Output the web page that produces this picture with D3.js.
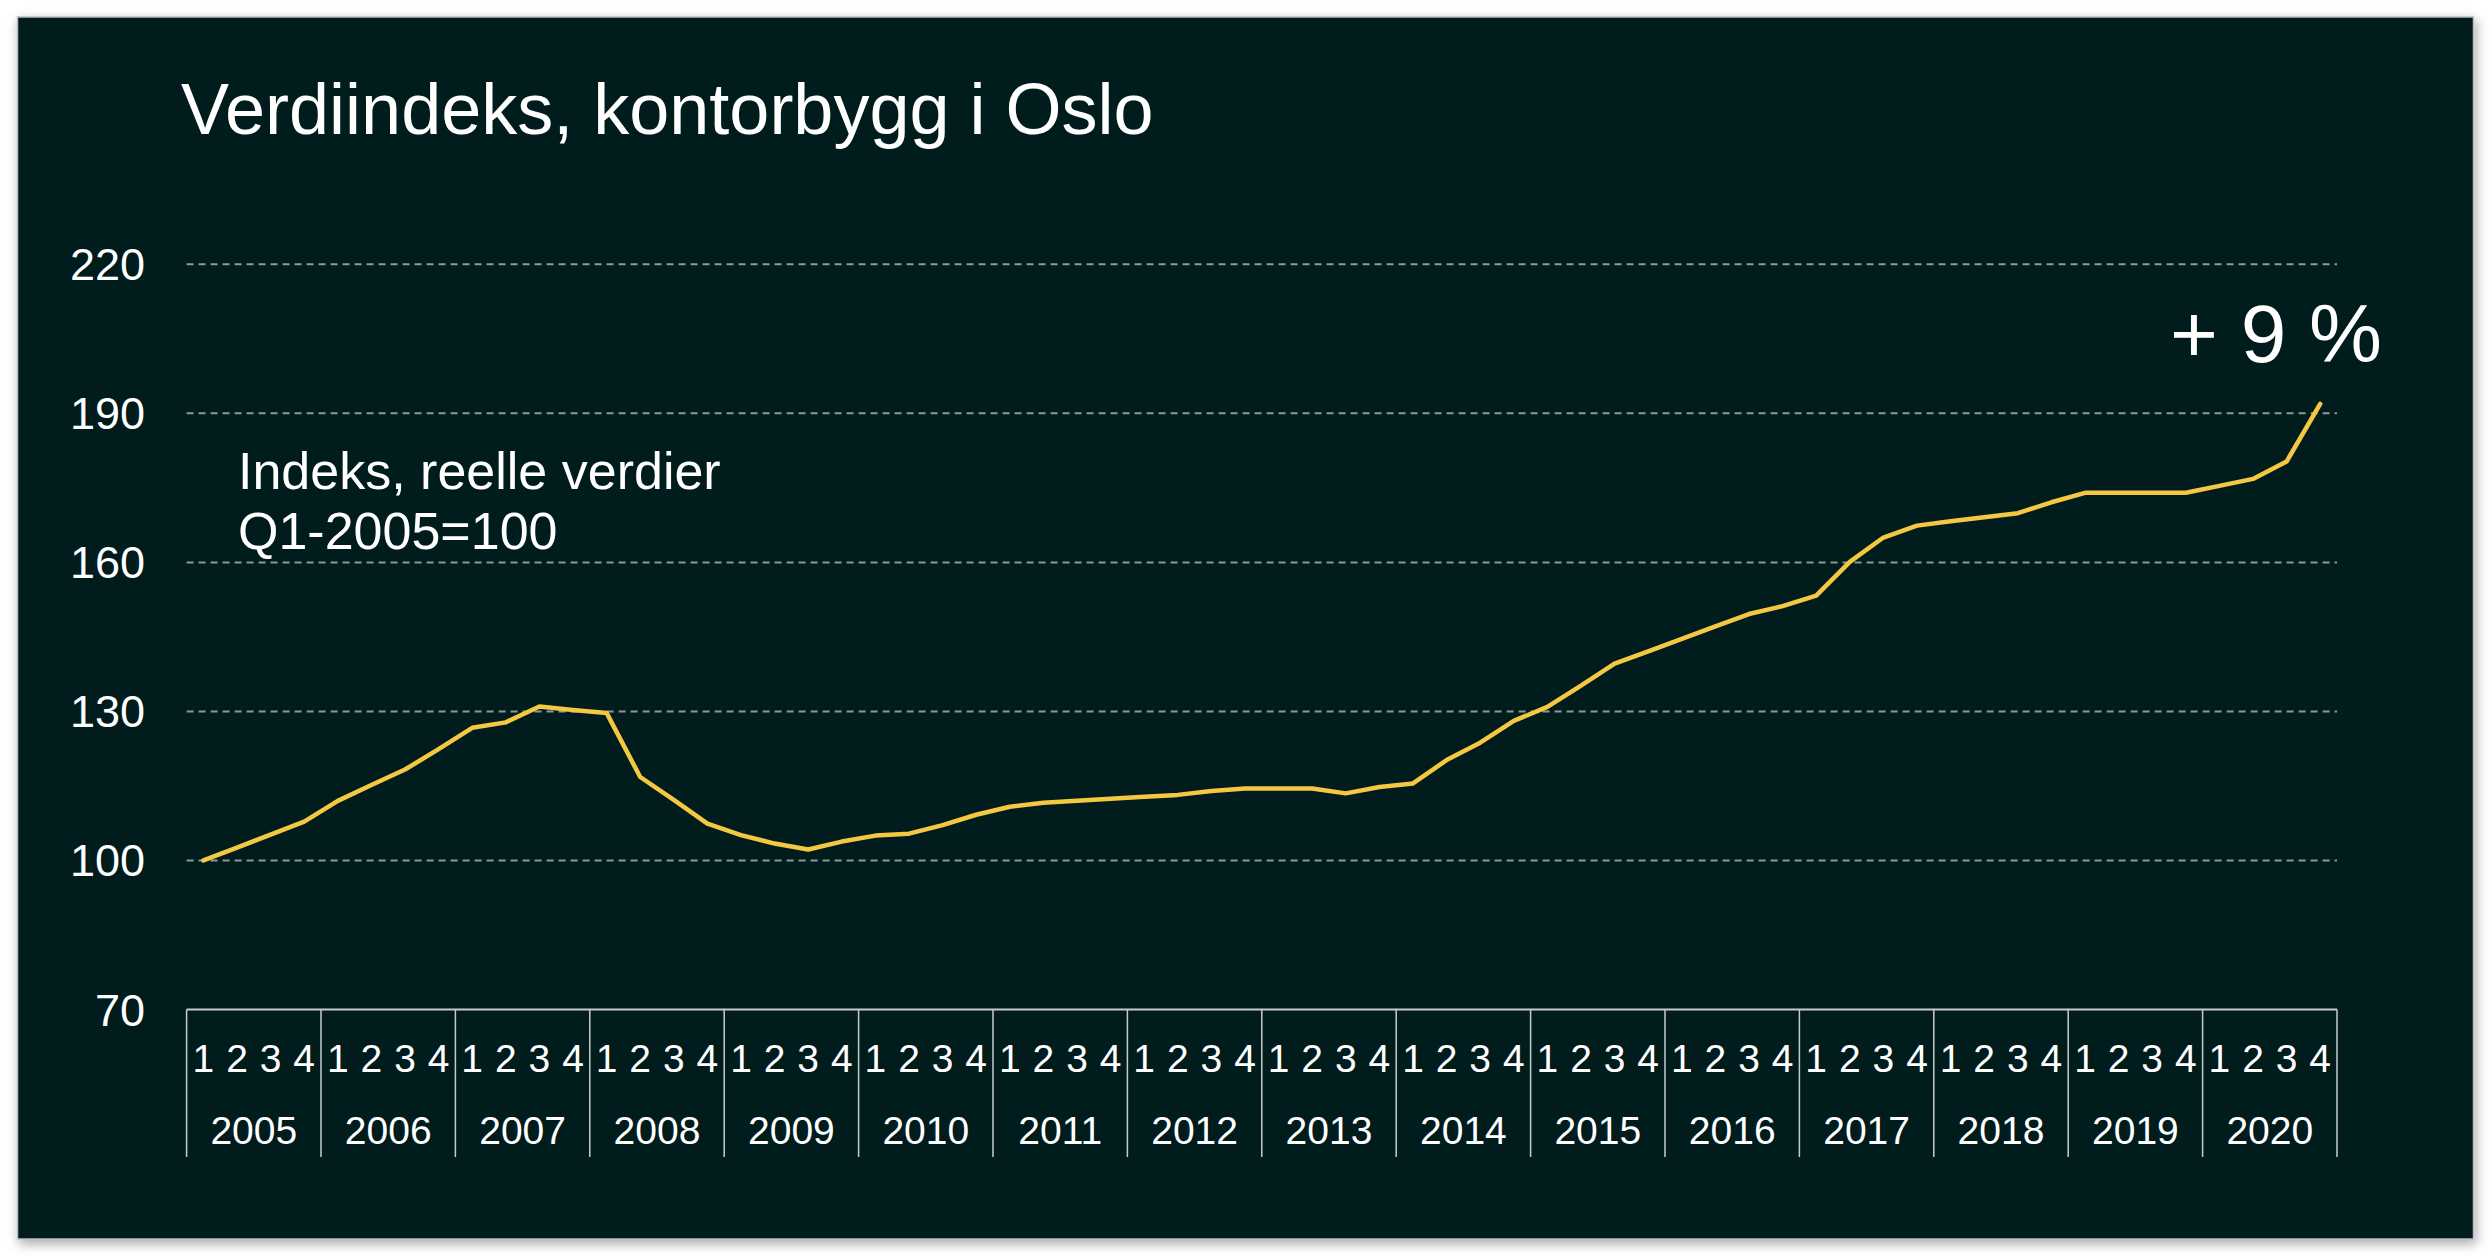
<!DOCTYPE html>
<html>
<head>
<meta charset="utf-8">
<script src="https://cdn.jsdelivr.net/npm/d3@7"></script>
<style>
  body { margin: 0; background: #fff; }
  svg text { font-family: "Liberation Sans", Arial, sans-serif; fill: #fff; }
</style>
</head>
<body>
<div id="chart"></div>
<script>
// kvartalsvis verdiindeks, Q1-2005 = 100
var years = ["2005","2006","2007","2008","2009","2010","2011","2012","2013","2014","2015","2016","2017","2018","2019","2020"];
var quarters = ["1","2","3","4"];
var yTicks = [70, 100, 130, 160, 190, 220];
var values = [
  100.0, 102.6, 105.2, 107.8,
  112.0, 115.2, 118.3, 122.4,
  126.7, 127.8, 131.0, 130.3,
  129.7, 116.8, 112.2, 107.4,
  105.1, 103.4, 102.2, 103.8,
  105.0, 105.4, 107.1, 109.2,
  110.8, 111.6, 112.0, 112.4,
  112.8, 113.2, 114.0, 114.5,
  114.5, 114.5, 113.5, 114.8,
  115.5, 120.2, 123.7, 128.1,
  130.9, 135.2, 139.6, 142.1,
  144.6, 147.1, 149.6, 151.2,
  153.3, 160.1, 165.0, 167.4,
  168.3, 169.1, 169.9, 172.1,
  174.0, 174.0, 174.0, 174.0,
  175.4, 176.8, 180.3, 191.9
];

(function(){

var W = 2489, H = 1256;
var plotL = 186.6, plotR = 2337, plotT = 264.3, plotB = 1009.5;

var periods = [];
years.forEach(function(y){ quarters.forEach(function(q){ periods.push(y + "-" + q); }); });

var x = d3.scaleBand().domain(periods).range([plotL, plotR]);
var xYear = d3.scaleBand().domain(years).range([plotL, plotR]);
var y = d3.scaleLinear().domain([70, 220]).range([plotB, plotT]);

var svg = d3.select("#chart").append("svg").attr("width", W).attr("height", H);

var defs = svg.append("defs");
var shadow = defs.append("filter").attr("id", "shadow").attr("x", "-5%").attr("y", "-5%").attr("width", "110%").attr("height", "110%");
shadow.append("feDropShadow").attr("dx", 2).attr("dy", 4).attr("stdDeviation", 6).attr("flood-color", "#000").attr("flood-opacity", 0.35);

svg.append("rect").attr("x", 17.5).attr("y", 17).attr("width", 2456).attr("height", 1222)
  .style("fill", "#041c1f").style("stroke", "#b8bcbc").style("stroke-width", 1.5)
  .attr("filter", "url(#shadow)");

// tittel og tekst
svg.append("text").text("Verdiindeks, kontorbygg i Oslo")
  .attr("x", 181).attr("y", 134).style("font-size", "72px");

svg.append("text").text("Indeks, reelle verdier")
  .attr("x", 238).attr("y", 489).style("font-size", "52px");
svg.append("text").text("Q1-2005=100")
  .attr("x", 238).attr("y", 549).style("font-size", "52px");

svg.append("text").text("+ 9 %")
  .attr("x", 2382).attr("y", 362).attr("text-anchor", "end").style("font-size", "82px");

// rutenett
svg.append("g").selectAll("line").data(yTicks.filter(function(d){ return d > 70; })).enter().append("line")
  .attr("x1", plotL).attr("x2", plotR)
  .attr("y1", function(d){ return y(d); }).attr("y2", function(d){ return y(d); })
  .style("stroke", "#8d9999").style("stroke-width", 2).style("stroke-dasharray", "7,5");

// y-akse tall
svg.append("g").selectAll("text").data(yTicks).enter().append("text")
  .text(function(d){ return d; })
  .attr("x", 145).attr("y", function(d){ return y(d) + 16; })
  .attr("text-anchor", "end").style("font-size", "45px");

// x-akse
svg.append("line").attr("x1", plotL).attr("x2", plotR).attr("y1", plotB).attr("y2", plotB)
  .style("stroke", "#c8cccc").style("stroke-width", 2);

var bounds = years.map(function(d){ return xYear(d); }).concat([plotR]);
svg.append("g").selectAll("line").data(bounds).enter().append("line")
  .attr("x1", function(d){ return d; }).attr("x2", function(d){ return d; })
  .attr("y1", plotB).attr("y2", 1157)
  .style("stroke", "#c8cccc").style("stroke-width", 1.5);

svg.append("g").selectAll("text").data(periods).enter().append("text")
  .text(function(d){ return d.split("-")[1]; })
  .attr("x", function(d){ return x(d) + x.bandwidth() / 2; }).attr("y", 1072)
  .attr("text-anchor", "middle").style("font-size", "39px");

svg.append("g").selectAll("text").data(years).enter().append("text")
  .text(function(d){ return d; })
  .attr("x", function(d){ return xYear(d) + xYear.bandwidth() / 2; }).attr("y", 1144)
  .attr("text-anchor", "middle").style("font-size", "39px");

// linje
var line = d3.line()
  .x(function(d, i){ return x(periods[i]) + x.bandwidth() / 2; })
  .y(function(d){ return y(d); });

svg.append("path").datum(values).attr("d", line)
  .style("fill", "none").style("stroke", "#f5c842").style("stroke-width", 4.5)
  .style("stroke-linejoin", "round").style("stroke-linecap", "round");

})();
</script>
</body>
</html>
